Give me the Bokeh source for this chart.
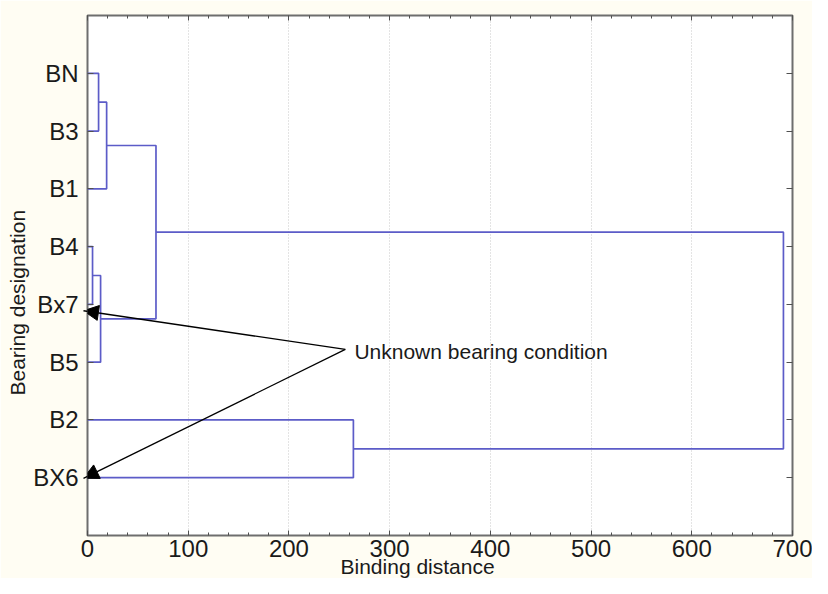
from bokeh.plotting import figure
from bokeh.models import (Range1d, FixedTicker, LinearAxis, Arrow, NormalHead,
                          Label, Title)
from bokeh.embed import file_html
from bokeh.resources import INLINE

# ---- data ----
leaf_labels = ["BX6", "B2", "B5", "Bx7", "B4", "B1", "B3", "BN"]  # positions 1..8 (bottom to top)
# linkage: node ids 0..7 are leaves, merges create nodes 8, 9, ...
merge_left = [7, 8, 4, 10, 9, 1, 12]
merge_right = [6, 5, 3, 2, 11, 0, 13]
merge_dist = [11, 19, 5, 13, 68, 264, 691]

x_ticks = [0, 100, 200, 300, 400, 500, 600, 700]
x_label = "Binding distance"
y_label = "Bearing designation"
annot_text = "Unknown bearing condition"
annot_tail = (256, 3.22)
annot_tips = {"Bx7": 3.89, "BX6": 0.99}

FONT = "Liberation Sans"

# ---- build dendrogram segments ----
node_x = [0.0] * len(leaf_labels)
node_y = [float(i + 1) for i in range(len(leaf_labels))]
xs, ys = [], []
for a, b, d in zip(merge_left, merge_right, merge_dist):
    xs.append([node_x[a], d, d, node_x[b]])
    ys.append([node_y[a], node_y[a], node_y[b], node_y[b]])
    node_x.append(float(d))
    node_y.append((node_y[a] + node_y[b]) / 2.0)

p = figure(width=812, height=578, x_range=Range1d(0, 700), y_range=Range1d(0, 9),
           output_backend="svg", toolbar_location=None,
           min_border_left=87, min_border_right=20, min_border_top=15, min_border_bottom=43)

p.background_fill_color = "white"
p.border_fill_color = "#fffdf3"
p.outline_line_color = "#6e6e6e"
p.outline_line_width = 2

p.multi_line(xs=xs, ys=ys, line_color="#5c5cc8", line_width=1.7)

# grid
p.ygrid.grid_line_color = None
p.xgrid.ticker = FixedTicker(ticks=x_ticks)
p.xgrid.grid_line_color = "#c8c8c8"
p.xgrid.grid_line_dash = "1 2"
p.xgrid.grid_line_width = 1

# bottom axis
xa = p.xaxis[0]
xa.ticker = FixedTicker(ticks=x_ticks, minor_ticks=list(range(0, 701, 20)))
xa.axis_line_color = None
xa.major_tick_in = 5
xa.major_tick_out = 0
xa.minor_tick_in = 3
xa.minor_tick_out = 0
xa.major_tick_line_color = "#505050"
xa.minor_tick_line_color = "#505050"
xa.major_label_text_font = FONT
xa.major_label_text_font_size = "24px"
xa.major_label_text_color = "#1a1a1a"
xa.major_label_standoff = 4

# left axis
ya = p.yaxis[0]
ya.ticker = FixedTicker(ticks=list(range(1, len(leaf_labels) + 1)))
ya.major_label_overrides = {i + 1: lab for i, lab in enumerate(leaf_labels)}
ya.axis_line_color = None
ya.major_tick_in = 6
ya.major_tick_out = 0
ya.minor_tick_line_color = None
ya.major_tick_line_color = "#505050"
ya.major_label_text_font = FONT
ya.major_label_text_font_size = "24px"
ya.major_label_text_color = "#1a1a1a"
ya.major_label_standoff = 9

# mirrored tick-only axes
ra = LinearAxis(ticker=FixedTicker(ticks=list(range(1, len(leaf_labels) + 1))),
                major_label_overrides={i + 1: "" for i in range(len(leaf_labels))},
                axis_line_color=None, major_tick_in=6, major_tick_out=0,
                minor_tick_line_color=None, major_tick_line_color="#505050",
                major_label_standoff=0)
p.add_layout(ra, "right")
ta = LinearAxis(ticker=FixedTicker(ticks=x_ticks, minor_ticks=list(range(0, 701, 20))),
                major_label_overrides={t: "" for t in x_ticks},
                axis_line_color=None, major_tick_in=5, major_tick_out=0,
                minor_tick_in=3, minor_tick_out=0,
                major_tick_line_color="#505050", minor_tick_line_color="#505050",
                major_label_standoff=0)
p.add_layout(ta, "above")

# axis titles
p.add_layout(Title(text=y_label, align="left", offset=140,
                   text_font=FONT, text_font_size="21px", text_font_style="normal",
                   text_color="#1a1a1a", standoff=4), "left")
p.add_layout(Title(text=x_label, align="left", offset=253,
                   text_font=FONT, text_font_size="21px", text_font_style="normal",
                   text_color="#1a1a1a", standoff=-14), "below")

# annotation arrows
for name, ty in annot_tips.items():
    p.add_layout(Arrow(end=NormalHead(size=15, fill_color="black", line_color="black"),
                       x_start=annot_tail[0], y_start=annot_tail[1],
                       x_end=-4, y_end=ty,
                       line_color="black", line_width=1.3))
p.add_layout(Label(x=annot_tail[0] + 9, y=annot_tail[1] - 0.03, text=annot_text,
                   text_baseline="middle", text_font=FONT, text_font_size="21px",
                   text_color="#1a1a1a"))

open("out.html", "w").write(file_html(p, INLINE))
